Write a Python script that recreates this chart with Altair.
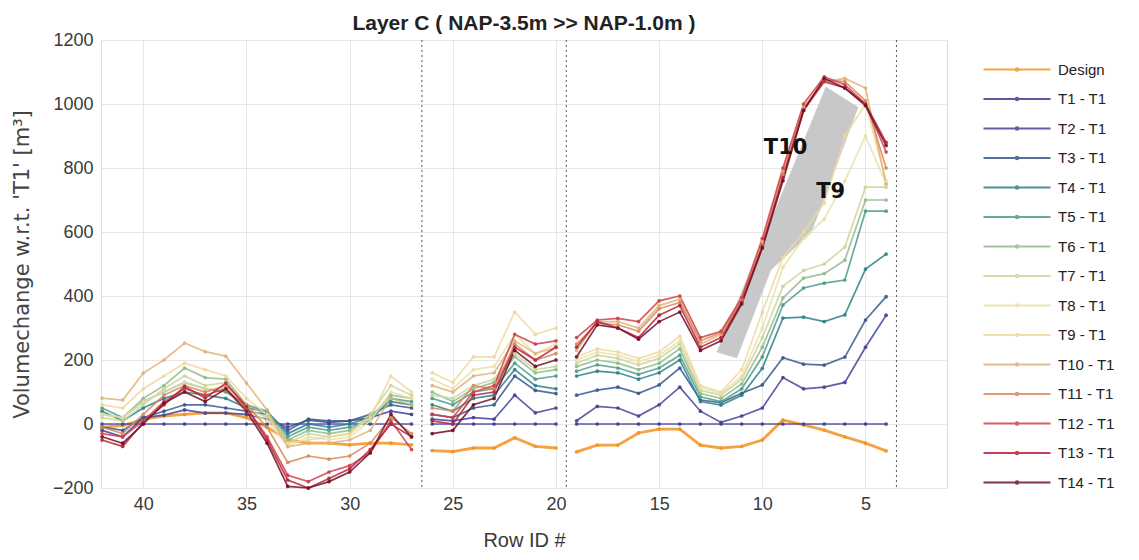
import altair as alt
import pandas as pd

# ---------------- data ----------------
rows_s1 = list(range(42, 26, -1))   # 42 .. 27
rows_s2 = list(range(26, 19, -1))   # 26 .. 20
rows_s3 = list(range(19, 3, -1))    # 19 .. 4

series_names = ["Design"] + [f"T{i} - T1" for i in range(1, 15)]
series_colors = ["#f5921e", "#3d3d95", "#45419a", "#355a8c", "#2f8089", "#4d9c8b",
                 "#92bb8a", "#c9d69c", "#e9e1a8", "#efd89c", "#e0b27a", "#d68a5c",
                 "#d3404a", "#b9223b", "#6e1026"]

seg1 = {
    "Design":   [-10, -5, 15, 25, 30, 35, 35, 20, -10, -50, -60, -60, -65, -60, -60, -65],
    "T1 - T1":  [0] * 16,
    "T2 - T1":  [-20, -40, 20, 28, 44, 34, 34, 30, 15, -10, 12, 5, 10, 20, 40, 30],
    "T3 - T1":  [-10, -20, 20, 40, 60, 60, 50, 40, 30, -20, 15, 10, 10, 30, 60, 50],
    "T4 - T1":  [40, 10, 50, 80, 100, 90, 80, 50, 40, -30, 0, -10, 0, 20, 70, 60],
    "T5 - T1":  [50, 20, 70, 100, 130, 110, 100, 60, 40, -40, -10, -20, -10, 10, 80, 70],
    "T6 - T1":  [30, 20, 80, 120, 175, 145, 140, 60, 30, -50, -20, -30, -20, 20, 90, 80],
    "T7 - T1":  [20, 10, 60, 110, 150, 120, 130, 50, 20, -60, -30, -40, -30, 30, 120, 90],
    "T8 - T1":  [30, 20, 70, 100, 130, 110, 110, 40, 10, -70, -40, -50, -40, 10, 100, 80],
    "T9 - T1":  [60, 50, 110, 150, 190, 170, 150, 80, 30, -60, -50, -40, -30, 20, 150, 100],
    "T10 - T1": [81, 75, 159, 200, 253, 226, 212, 128, 44, -71, -60, -60, -50, -20, 80, 60],
    "T11 - T1": [-10, -30, 30, 90, 120, 100, 120, 60, -10, -120, -100, -110, -100, -60, 20, -30],
    "T12 - T1": [-30, -40, 10, 70, 110, 90, 110, 50, -40, -160, -180, -150, -130, -90, 10, -80],
    "T13 - T1": [-50, -70, 5, 60, 117, 81, 128, 54, -50, -175, -200, -170, -140, -80, 0, -40],
    "T14 - T1": [-40, -60, 0, 65, 100, 70, 110, 40, -60, -195, -200, -180, -150, -90, 30, -40],
}

seg2 = {
    "Design":   [-83, -86, -75, -75, -43, -70, -75],
    "T1 - T1":  [0] * 7,
    "T2 - T1":  [15, 10, 20, 15, 90, 35, 50],
    "T3 - T1":  [30, 20, 50, 60, 150, 105, 95],
    "T4 - T1":  [60, 40, 80, 90, 170, 120, 110],
    "T5 - T1":  [80, 60, 100, 110, 190, 140, 150],
    "T6 - T1":  [100, 70, 110, 130, 210, 160, 170],
    "T7 - T1":  [90, 80, 120, 140, 220, 170, 180],
    "T8 - T1":  [140, 110, 170, 180, 280, 220, 250],
    "T9 - T1":  [160, 130, 210, 210, 350, 280, 300],
    "T10 - T1": [120, 100, 150, 160, 260, 220, 240],
    "T11 - T1": [50, 40, 120, 110, 250, 200, 220],
    "T12 - T1": [30, 20, 100, 120, 280, 250, 260],
    "T13 - T1": [10, 0, 90, 100, 240, 200, 240],
    "T14 - T1": [-30, -20, 60, 80, 230, 180, 200],
}

seg3 = {
    "Design":   [-87, -66, -66, -28, -16, -16, -66, -75, -70, -50, 12, -3, -19, -40, -60, -84],
    "T1 - T1":  [0] * 16,
    "T2 - T1":  [10, 55, 50, 25, 60, 115, 40, 5, 25, 50, 145, 110, 115, 130, 240, 340],
    "T3 - T1":  [90, 106, 115, 96, 122, 175, 75, 67, 96, 122, 207, 187, 184, 209, 325, 398],
    "T4 - T1":  [150, 165, 160, 140, 160, 200, 70, 59, 90, 174, 331, 334, 320, 341, 484, 531],
    "T5 - T1":  [165, 185, 175, 155, 175, 215, 85, 70, 110, 210, 372, 425, 440, 450, 665, 665],
    "T6 - T1":  [180, 200, 190, 170, 190, 235, 95, 80, 125, 240, 394, 456, 470, 512, 700, 700],
    "T7 - T1":  [190, 215, 205, 185, 205, 250, 105, 90, 140, 270, 430, 480, 500, 553, 740, 740],
    "T8 - T1":  [200, 225, 215, 195, 215, 260, 115, 95, 150, 300, 490, 580, 640, 760, 900, 750],
    "T9 - T1":  [210, 235, 225, 205, 225, 275, 120, 100, 170, 350, 520, 600, 690, 900, 1000, 760],
    "T10 - T1": [230, 320, 320, 300, 370, 390, 250, 280, 390, 570, 790, 990, 1070, 1080, 1050, 750],
    "T11 - T1": [250, 315, 310, 290, 360, 380, 260, 285, 385, 560, 780, 985, 1075, 1070, 1010, 800],
    "T12 - T1": [270, 325, 330, 320, 385, 400, 270, 290, 395, 580, 800, 1000, 1085, 1060, 1000, 850],
    "T13 - T1": [240, 320, 300, 270, 340, 370, 240, 270, 380, 555, 770, 980, 1070, 1050, 1000, 880],
    "T14 - T1": [210, 310, 300, 265, 320, 350, 230, 260, 375, 550, 760, 980, 1080, 1050, 995, 870],
}

section_breaks = [26.5, 19.5, 3.5]

# grey shaded band between T10 and T9 (annotation)
band_x = [12.2, 6.92, 5.36, 7.02, 7.65, 9.59, 11.24, 12.2]
band_y = [225, 1053, 990, 700, 597, 481, 206, 225]

note_text = ["T10", "T9"]
note_x = [8.87, 6.69]
note_y = [862, 725]

# ---------------- build table ----------------
recs = []
for s in series_names:
    for seg_id, (rows, seg) in enumerate([(rows_s1, seg1), (rows_s2, seg2), (rows_s3, seg3)]):
        for r, v in zip(rows, seg[s]):
            recs.append({"series": s, "seg": f"{s}-{seg_id}", "row": r, "val": v,
                         "order": series_names.index(s)})
df = pd.DataFrame(recs)

band_df = pd.DataFrame({"row": band_x, "val": band_y, "i": list(range(len(band_x)))})
note_df = pd.DataFrame({"t": note_text, "row": note_x, "val": note_y})
brk_df = pd.DataFrame({"row": section_breaks})

NARROW = "Liberation Sans Narrow, Liberation Sans"
xscale = alt.Scale(domain=[1.05, 42.05], reverse=True, nice=False, zero=False)
yscale = alt.Scale(domain=[-200, 1200], nice=False, zero=False)

xax = alt.Axis(values=[40, 35, 30, 25, 20, 15, 10, 5], title="Row ID #", grid=True,
               ticks=False, tickSize=0, labelPadding=7, titlePadding=17,
               labelFontSize=18, titleFontSize=20, labelFont=NARROW, titleFont=NARROW,
               labelColor="#3a3a3a", titleColor="#3a3a3a", titleFontWeight="normal",
               domain=False, gridColor="#e6e6e6")
yax = alt.Axis(values=list(range(-200, 1201, 200)), format="d",
               title="Volumechange w.r.t. 'T1' [m³]",
               grid=True, ticks=False, tickSize=0, labelPadding=8, titlePadding=20,
               labelFontSize=18, titleFontSize=21, labelFont=NARROW, titleFont="DejaVu Sans",
               labelColor="#3a3a3a", titleColor="#444444", titleFontWeight="normal",
               domain=False, gridColor="#e6e6e6")

base_x = alt.X("row:Q", scale=xscale, axis=xax)
base_y = alt.Y("val:Q", scale=yscale, axis=yax)

band = alt.Chart(band_df).mark_line(fill="#c8c8c8", stroke="#c8c8c8", strokeWidth=0.5,
                                    interpolate="linear").encode(
    x=alt.X("row:Q", scale=xscale), y=alt.Y("val:Q", scale=yscale), order="i:Q")

breaks = alt.Chart(brk_df).mark_rule(color="#555555", strokeDash=[2, 3], strokeWidth=1).encode(
    x=alt.X("row:Q", scale=xscale))

legend_path = "M-6.7,0H6.7M0.25,0A0.25,0.25,0,1,1,-0.25,0A0.25,0.25,0,1,1,0.25,0Z"

lines = alt.Chart(df).mark_line(
    point=alt.OverlayMarkDef(filled=True, size=14, opacity=0.9),
    opacity=0.85).encode(
    x=base_x, y=base_y,
    color=alt.Color("series:N",
                    scale=alt.Scale(domain=series_names, range=series_colors),
                    legend=alt.Legend(title=None, orient="none", legendX=908.5, legendY=22,
                                      symbolType=legend_path, symbolSize=100,
                                      symbolStrokeWidth=2, labelFontSize=15, labelFont=NARROW,
                                      labelColor="#222222", labelOffset=33.5, rowPadding=13.5,
                                      padding=0)),
    detail="seg:N",
    order="order:Q",
    strokeWidth=alt.condition(alt.datum.series == "Design", alt.value(2.8), alt.value(1.7)),
)

notes = alt.Chart(note_df).mark_text(font="DejaVu Sans", fontWeight="bold", fontSize=21,
                                     color="#111111").encode(
    x=alt.X("row:Q", scale=xscale), y=alt.Y("val:Q", scale=yscale), text="t:N")

chart = alt.layer(band, lines, breaks, notes).properties(
    width=846, height=448,
    title=alt.TitleParams("Layer C  ( NAP-3.5m >> NAP-1.0m )", font=NARROW, fontSize=21,
                          fontWeight="bold", color="#222222", anchor="middle", offset=-3),
    autosize=alt.AutoSizeParams(type="none"),
    padding={"left": 93, "top": 32, "right": 184, "bottom": 72},
).configure_view(stroke="#333333", strokeWidth=1).configure(background="white")

chart.save("out.html", embed_options={"renderer": "svg", "actions": False})
